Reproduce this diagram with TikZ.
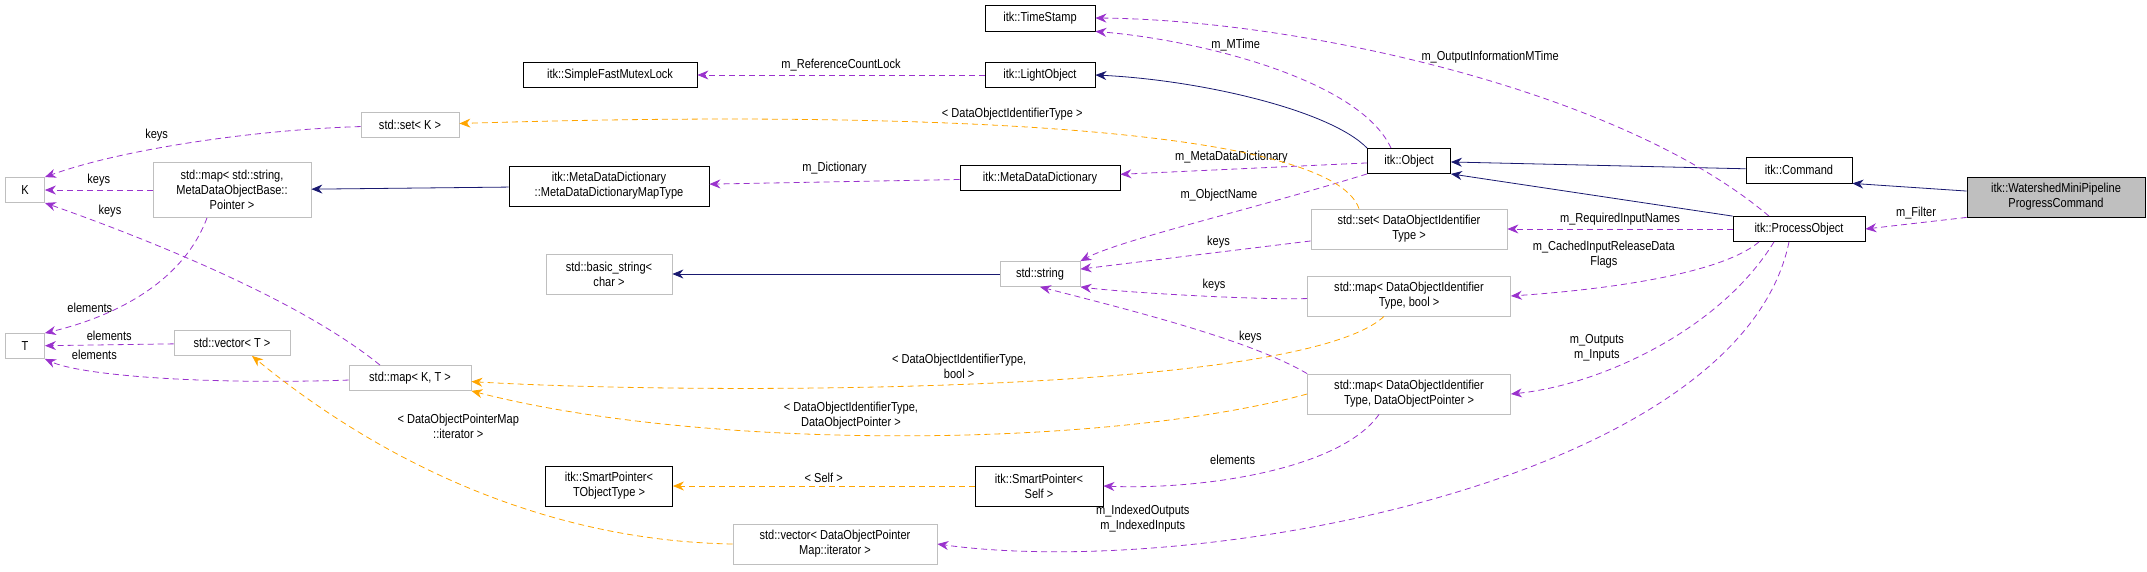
\documentclass[tikz,border=0pt]{standalone}
\usepackage{fontspec}
\setmainfont[FakeStretch=0.85]{Liberation Sans}
\usetikzlibrary{arrows.meta}

\definecolor{usecol}{HTML}{9A32CD}
\definecolor{tplcol}{HTML}{FFA500}
\definecolor{inhcol}{HTML}{191970}
\definecolor{extcol}{HTML}{BFBFBF}

\tikzset{
  box/.style={draw=black,thick,align=center,inner sep=1pt,font=\fontsize{13}{15}\selectfont},
  ext/.style={box,draw=extcol},
  main/.style={box,fill=extcol},
  use/.style={draw=usecol,dashed,thick,dash pattern=on 6pt off 4pt,-{Stealth[length=11pt,width=9pt]}},
  tpl/.style={draw=tplcol,dashed,thick,dash pattern=on 6pt off 4pt,-{Stealth[length=11pt,width=9pt]}},
  inh/.style={draw=inhcol,thick,-{Stealth[length=11pt,width=9pt]}},
  lbl/.style={align=center,font=\fontsize{13}{15}\selectfont}
}

\begin{document}
\begin{tikzpicture}[x=1pt,y=-1pt]
\useasboundingbox (0,0) rectangle (2147,571);

% classes
\node[box,minimum width=110,minimum height=26] (ts) at (1040,18) {itk::TimeStamp};
\node[box,minimum width=174,minimum height=25] (mutex) at (610,75) {itk::SimpleFastMutexLock};
\node[box,minimum width=110,minimum height=25] (lo) at (1040,75) {itk::LightObject};
\node[ext,minimum width=98,minimum height=25] (setk) at (410,125) {std::set< K >};
\node[ext,minimum width=39,minimum height=25] (k) at (25,190) {K};
\node[ext,minimum width=158,minimum height=55] (mapstr) at (232,190) {std::map< std::string,\\MetaDataObjectBase::\\Pointer >};
\node[box,minimum width=200,minimum height=40] (maptype) at (609,186) {itk::MetaDataDictionary\\::MetaDataDictionaryMapType};
\node[box,minimum width=160,minimum height=25] (mdd) at (1040,178) {itk::MetaDataDictionary};
\node[box,minimum width=83,minimum height=25] (obj) at (1409,161) {itk::Object};
\node[box,minimum width=106,minimum height=26] (cmd) at (1799,170) {itk::Command};
\node[main,minimum width=178,minimum height=40] (ws) at (2056,197) {itk::WatershedMiniPipeline\\ProgressCommand};
\node[box,minimum width=132,minimum height=25] (po) at (1799,229) {itk::ProcessObject};
\node[ext,minimum width=196,minimum height=40] (sdoit) at (1409,229) {std::set< DataObjectIdentifier\\Type >};
\node[ext,minimum width=126,minimum height=40] (bstr) at (609,274) {std::basic\_string<\\char >};
\node[ext,minimum width=80,minimum height=25] (str) at (1040,274) {std::string};
\node[ext,minimum width=203,minimum height=40] (mbool) at (1409,296) {std::map< DataObjectIdentifier\\Type, bool >};
\node[ext,minimum width=39,minimum height=25] (t) at (25,346) {T};
\node[ext,minimum width=116,minimum height=25] (vect) at (232,343) {std::vector< T >};
\node[ext,minimum width=122,minimum height=25] (mapkt) at (410,378) {std::map< K, T >};
\node[ext,minimum width=203,minimum height=40] (mdop) at (1409,394) {std::map< DataObjectIdentifier\\Type, DataObjectPointer >};
\node[box,minimum width=127,minimum height=40] (spt) at (609,486) {itk::SmartPointer<\\TObjectType >};
\node[box,minimum width=128,minimum height=40] (sps) at (1039,486) {itk::SmartPointer<\\Self >};
\node[ext,minimum width=204,minimum height=40] (vdopm) at (835,544) {std::vector< DataObjectPointer\\Map::iterator >};

% inheritance
\draw[inh] (obj.north west) .. controls (1330,110) and (1200,80) .. (lo.east);
\draw[inh] (cmd) -- (obj);
\draw[inh] (po.north west) -- (obj.south east);
\draw[inh] (ws) -- (cmd.south east);
\draw[inh] (maptype) -- (mapstr);
\draw[inh] (str) -- (bstr);

% usage
\draw[use] ([xshift=-30]po.north) .. controls (1620,90) and (1300,20) .. (ts.east) node[lbl,pos=0.45,above=14] {m\_OutputInformationMTime};
\draw[use] ([xshift=-18]obj.north) .. controls (1360,80) and (1200,40) .. (ts.south east) node[lbl,pos=0.6,above=2] {m\_MTime};
\draw[use] (lo) -- (mutex) node[lbl,midway,above] {m\_ReferenceCountLock};
\draw[use] (obj) -- (mdd) node[lbl,pos=0.55,above=2] {m\_MetaDataDictionary};
\draw[use] (mdd) -- (maptype) node[lbl,midway,above=4] {m\_Dictionary};
\draw[use] (obj.south west) .. controls (1250,210) and (1120,240) .. (str.north east) node[lbl,pos=0.3,above left] {m\_ObjectName};
\draw[use] (sdoit) -- (str) node[lbl,pos=0.4,above] {keys};
\draw[use] (mbool) .. controls (1250,300) and (1120,292) .. (str.south east) node[lbl,pos=0.4,above=2] {keys};
\draw[use] (mdop.north west) .. controls (1250,340) and (1130,310) .. (str.south) node[lbl,pos=0.15,above left=12] {keys};
\draw[use] (setk) .. controls (250,130) and (120,150) .. (k.north east) node[lbl,pos=0.6,above=4] {keys};
\draw[use] (mapstr) -- (k) node[lbl,midway,above] {keys};
\draw[use] ([xshift=-30]mapkt.north) .. controls (300,300) and (150,240) .. (k.south east) node[lbl,pos=0.85,above right] {keys};
\draw[use] ([xshift=-25]mapstr.south) .. controls (180,290) and (100,320) .. (t.north east) node[lbl,pos=0.6,left=2] {elements};
\draw[use] (vect) -- (t) node[lbl,midway,above] {elements};
\draw[use] (mapkt) .. controls (200,385) and (80,375) .. (t.south east) node[lbl,pos=0.85,above right=2] {elements};
\draw[use] ([xshift=-30]mdop.south) .. controls (1340,470) and (1200,490) .. (sps.east) node[lbl,pos=0.5,above left=4] {elements};
\draw[use] ([xshift=-10]po.south) .. controls (1740,480) and (1200,580) .. (vdopm.east) node[lbl,pos=0.78,above=12] {m\_IndexedOutputs\\m\_IndexedInputs};
\draw[use] ([xshift=-25]po.south) .. controls (1720,330) and (1600,385) .. (mdop.east) node[lbl,pos=0.5,left=28] {m\_Outputs\\m\_Inputs};
\draw[use] ([xshift=-40]po.south) .. controls (1720,275) and (1600,290) .. (mbool.east) node[lbl,pos=0.4,above left=2] {m\_CachedInputReleaseData\\Flags};
\draw[use] (po) -- (sdoit) node[lbl,midway,above] {m\_RequiredInputNames};
\draw[use] (ws.south west) -- (po.east) node[lbl,midway,above] {m\_Filter};

% templates
\draw[tpl] ([xshift=-50]sdoit.north) .. controls (1330,125) and (900,110) .. (setk) node[lbl,pos=0.55,above=2] {< DataObjectIdentifierType >};
\draw[tpl] ([xshift=-25]mbool.south) .. controls (1300,395) and (700,395) .. (mapkt) node[lbl,pos=0.52,above=2] {< DataObjectIdentifierType,\\bool >};
\draw[tpl] (mdop.west) .. controls (1100,450) and (700,450) .. (mapkt.south east) node[lbl,pos=0.55,above=2] {< DataObjectIdentifierType,\\DataObjectPointer >};
\draw[tpl] (vdopm.west) .. controls (500,540) and (330,420) .. ([xshift=20]vect.south) node[lbl,pos=0.6,above right=6] {< DataObjectPointerMap\\::iterator >};
\draw[tpl] (sps) -- (spt) node[lbl,midway,above] {< Self >};
\end{tikzpicture}
\end{document}
